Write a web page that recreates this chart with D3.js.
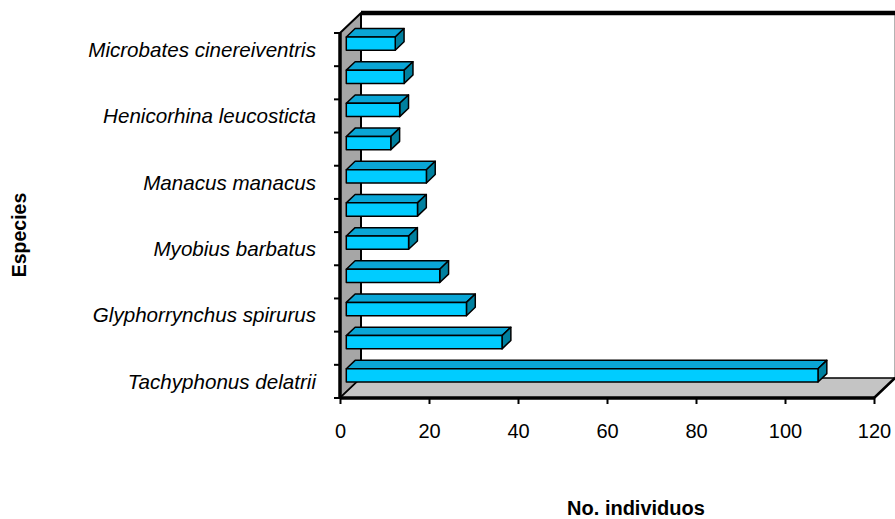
<!DOCTYPE html>
<html><head><meta charset="utf-8">
<script src="https://cdn.jsdelivr.net/npm/d3@7/dist/d3.min.js"></script>
<style>
html,body{margin:0;padding:0;background:#fff;}
svg{display:block;font-family:"Liberation Sans",Arial,sans-serif;}
</style></head>
<body><svg id="c" width="895" height="519"></svg>
<script>
// Data (bottom to top)
const categories = ["Tachyphonus delatrii", "", "Glyphorrynchus spirurus", "", "Myobius barbatus", "", "Manacus manacus", "", "Henicorhina leucosticta", "", "Microbates cinereiventris"];
const values = [106, 35, 27, 21, 14, 16, 18, 10, 12, 13, 11];
const xTicks = [0, 20, 40, 60, 80, 100, 120];
const xTitle = "No. individuos";
const yTitle = "Especies";

const svg = d3.select("#c");
const L = 340, R = 874, T = 33, B = 398;
const DX = 21, DY = -20; // full depth offset
const x = d3.scaleLinear().domain([0, 120]).range([L, R]);
const idx = d3.range(categories.length);
const y = d3.scaleBand().domain(idx).range([B, T]).paddingInner(0.6).paddingOuter(0.3);
const yb = d3.scaleBand().domain(idx).range([B, T]);

const pt = (a) => a.map(p => p.join(",")).join(" ");
// back wall
svg.append("polygon").attr("points", pt([[L+DX,T+DY],[R+DX,T+DY],[R+DX,B+DY],[L+DX,B+DY]]))
  .attr("fill", "#fff").attr("stroke", "none");
svg.append("line").attr("x1", R+DX).attr("x2", R+DX).attr("y1", T+DY).attr("y2", B+DY)
  .attr("stroke", "#808080").attr("stroke-width", 1.2);
svg.append("line").attr("x1", L+DX).attr("x2", 895).attr("y1", T+DY).attr("y2", T+DY)
  .attr("stroke", "#000").attr("stroke-width", 4.5);
// left wall
svg.append("polygon").attr("points", pt([[L,T],[L+DX,T+DY],[L+DX,B+DY],[L,B]]))
  .attr("fill", "#a6a6a6").attr("stroke", "#000").attr("stroke-width", 2).attr("stroke-linejoin", "round");
// floor
svg.append("polygon").attr("points", pt([[L,B],[L+DX,B+DY],[R+DX,B+DY],[R,B]]))
  .attr("fill", "#c4c4c4").attr("stroke", "#000").attr("stroke-width", 1.5).attr("stroke-linejoin", "round");

// bars
const z0 = 0.3, z1 = 0.72;
const ox = DX*z0, oy = DY*z0, bx = DX*(z1-z0), by = DY*(z1-z0);
const bars = svg.append("g");
idx.slice().reverse().forEach(i => {
  const v = values[i];
  const x0 = x(0) + ox, x1 = x(v) + ox;
  const y0 = y(i) + oy, h = y.bandwidth();
  const g = bars.append("g").attr("stroke", "#000").attr("stroke-width", 1.5).attr("stroke-linejoin", "round");
  g.append("polygon").attr("points", pt([[x0,y0],[x0+bx,y0+by],[x1+bx,y0+by],[x1,y0]])).attr("fill", "#0aa6d6");
  g.append("polygon").attr("points", pt([[x1,y0],[x1+bx,y0+by],[x1+bx,y0+h+by],[x1,y0+h]])).attr("fill", "#00809f");
  g.append("rect").attr("x", x0).attr("y", y0).attr("width", x1-x0).attr("height", h).attr("fill", "#00ccff");
});

// x axis
const ax = svg.append("g").attr("transform", `translate(0,${B})`)
  .call(d3.axisBottom(x).tickValues(xTicks).tickSize(6).tickPadding(20).tickFormat(d3.format("d")));
ax.select(".domain").attr("stroke-width", 3.5).attr("d", `M${L},0H${R}`);
ax.selectAll(".tick line").attr("stroke-width", 2);
ax.selectAll("text").attr("font-size", 20).attr("fill", "#000").attr("font-family", "'Liberation Sans',Arial,sans-serif");

// y axis with ticks at category boundaries
const yax = svg.append("g");
yax.append("line").attr("x1", L).attr("x2", L).attr("y1", T).attr("y2", B).attr("stroke", "#000").attr("stroke-width", 3.5);
d3.range(categories.length + 1).forEach(i => {
  const yv = B - i*yb.step();
  yax.append("line").attr("x1", L-6).attr("x2", L).attr("y1", yv).attr("y2", yv).attr("stroke", "#000").attr("stroke-width", 2);
});
svg.append("line").attr("x1", R).attr("x2", R+DX).attr("y1", B).attr("y2", B+DY).attr("stroke", "#000").attr("stroke-width", 2.5);

// category labels
svg.append("g").selectAll("text").data(idx.filter(i => categories[i] !== "")).join("text")
  .attr("x", 316).attr("y", i => yb(i) + yb.bandwidth()/2)
  .attr("dy", "0.35em").attr("text-anchor", "end")
  .attr("font-size", 20.6).attr("font-style", "italic").attr("fill", "#000")
  .text(i => categories[i]);

// titles
svg.append("text").attr("x", 636).attr("y", 515).attr("text-anchor", "middle")
  .attr("font-size", 20).attr("font-weight", "bold").text(xTitle);
svg.append("text").attr("transform", "translate(26,235) rotate(-90)").attr("text-anchor", "middle")
  .attr("font-size", 19.5).attr("font-weight", "bold").text(yTitle);
</script></body></html>
